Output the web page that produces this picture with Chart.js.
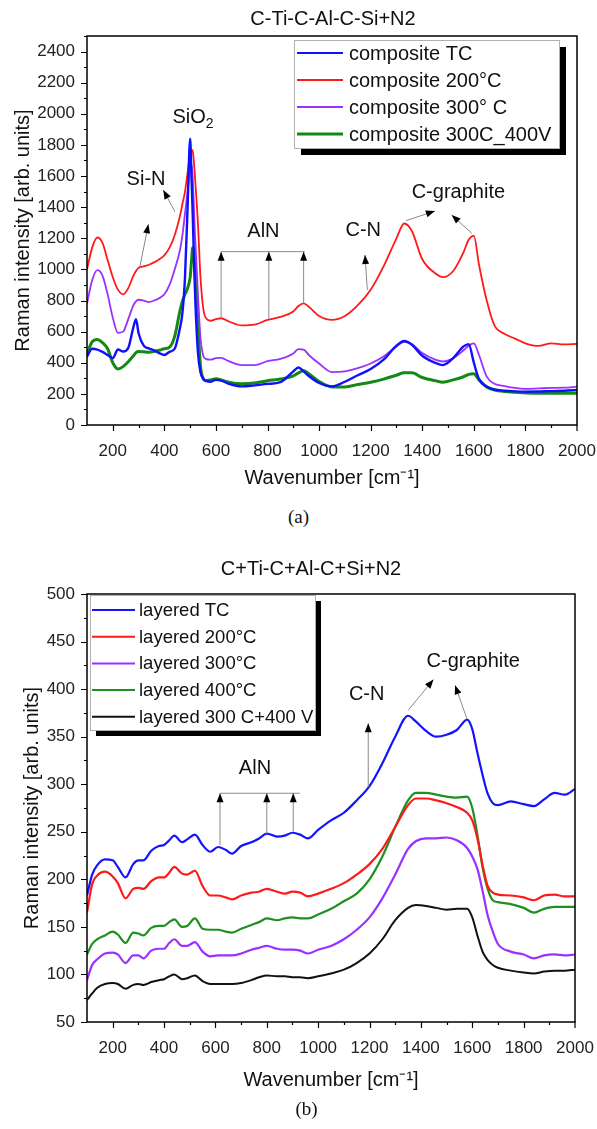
<!DOCTYPE html>
<html>
<head>
<meta charset="utf-8">
<script src="https://cdn.jsdelivr.net/npm/chart.js@4.4.1/dist/chart.umd.min.js"></script>
<style>
  body { margin: 0; background: #fff; width: 597px; height: 1129px; position: relative; overflow: hidden; }
  .box { position: absolute; left: 0; width: 597px; }
  #boxA { top: 0; height: 500px; }
  #boxB { top: 540px; height: 560px; }
  .cap { position: absolute; width: 597px; text-align: center; font-family: "Liberation Serif", "Times New Roman", serif; font-size: 19px; color: #111; }
</style>
</head>
<body>
<div class="box" id="boxA"><canvas id="chartA"></canvas></div>
<div class="box" id="boxB"><canvas id="chartB"></canvas></div>
<div class="cap" style="left:0; top:506px;">(a)</div>
<div class="cap" style="left:8px; top:1098px;">(b)</div>
<script>
// ---- (a) composite coatings ----
const wnA = [100, 120, 140, 160, 180, 200, 220, 240, 260, 280, 290, 300, 320, 340, 360, 380, 400, 420, 440, 460,
  470, 480, 490, 500, 505, 510, 515, 520, 530, 540, 550, 560, 580, 600, 620, 650, 700, 750, 800, 850, 900,
  920, 940, 960, 1000, 1050, 1100, 1150, 1200, 1250, 1300, 1330, 1360, 1400, 1450, 1480, 1520, 1560, 1580,
  1600, 1620, 1650, 1680, 1720, 1760, 1800, 1850, 1900, 1950, 2000];
const compTC = [440, 490, 485, 470, 450, 430, 485, 472, 495, 630, 680, 590, 510, 492, 480, 462, 450, 470, 490, 620,
  720, 950, 1400, 1840, 1600, 1350, 1050, 800, 470, 340, 300, 285, 278, 290, 285, 265, 248, 255, 264, 275, 345,
  370, 345, 315, 270, 248, 278, 320, 360, 420, 510, 540, 515, 445, 400, 385, 430, 505, 520,
  400, 295, 246, 228, 220, 216, 214, 215, 218, 220, 225];
const comp200 = [1000, 1140, 1205, 1170, 1060, 950, 870, 840, 880, 960, 990, 1010, 1020, 1030, 1045, 1065, 1090, 1140, 1220, 1340,
  1420, 1500, 1620, 1740, 1770, 1760, 1680, 1560, 1300, 950, 760, 690, 670, 680, 686, 665, 640, 645, 675, 695, 730,
  765, 782, 760, 700, 675, 700, 770, 870, 1020, 1200, 1295, 1245, 1065, 975, 950, 990, 1110, 1190,
  1215, 1030, 800, 640, 585, 555, 525, 508, 525, 518, 521];
const comp300 = [780, 930, 995, 960, 840, 690, 592, 600, 680, 770, 795, 805, 800, 790, 800, 815, 840, 900, 1000, 1120,
  1220, 1360, 1500, 1660, 1680, 1580, 1380, 1180, 850, 560, 450, 425, 420, 430, 432, 410, 385, 385, 410, 425, 460,
  488, 485, 450, 395, 340, 345, 365, 395, 440, 505, 535, 520, 462, 420, 408, 430, 480, 510,
  525, 450, 311, 265, 250, 238, 232, 235, 238, 240, 246];
const comp300V = [460, 535, 550, 530, 490, 400, 360, 375, 407, 445, 465, 472, 470, 468, 472, 480, 490, 500, 570, 730,
  795, 840, 880, 950, 1050, 1140, 1080, 950, 650, 380, 300, 285, 290, 298, 290, 275, 265, 270, 285, 295, 315,
  335, 348, 330, 280, 245, 245, 260, 275, 295, 320, 335, 335, 305, 285, 275, 290, 310, 325,
  330, 290, 245, 225, 215, 210, 205, 204, 204, 204, 204];

// ---- (b) layered coatings ----
const wnB = [100, 120, 140, 170, 200, 220, 250, 280, 300, 320, 350, 380, 400, 420, 440, 470, 490, 520, 550, 580,
  610, 640, 665, 700, 740, 770, 800, 840, 870, 900, 930, 960, 1000, 1050, 1100, 1150, 1200, 1250, 1300, 1350,
  1380, 1420, 1460, 1500, 1540, 1580, 1600, 1620, 1640, 1660, 1680, 1700, 1750, 1800, 1840, 1880, 1920, 1960, 2000];
const layTC = [183, 205, 215, 221, 220, 213, 202, 216, 220, 220, 230, 235, 236, 241, 246, 239, 242, 247, 236, 229,
  234, 231, 227, 235, 239, 243, 248, 245, 246, 249, 247, 243, 252, 262, 270, 283, 298, 322, 350, 372,
  366, 356, 350, 352, 357, 368, 358, 333, 310, 290, 280, 278, 282, 279, 277, 284, 291, 289, 295];
const lay200 = [165, 195, 204, 208, 203, 196, 180, 190, 191, 190, 198, 202, 202, 207, 213, 206, 205, 209, 193, 183,
  183, 181, 179, 183, 186, 187, 190, 187, 185, 187, 186, 182, 185, 190, 196, 205, 216, 232, 255, 278,
  285, 285, 283, 280, 276, 270, 262, 243, 215, 193, 186, 184, 183, 181, 178, 183, 184, 182, 182];
const lay300 = [94, 110, 116, 122, 123, 121, 112, 120, 120, 117, 125, 127, 127, 133, 137, 130, 130, 134, 124, 119,
  120, 120, 120, 122, 126, 128, 130, 127, 126, 126, 125, 122, 126, 130, 137, 147, 160, 180, 205, 232,
  240, 243, 243, 244, 241, 233, 224, 211, 188, 162, 145, 132, 124, 121, 117, 120, 121, 120, 121];
const lay400 = [121, 132, 137, 141, 145, 142, 133, 144, 143, 141, 149, 151, 151, 155, 158, 150, 151, 159, 148, 147,
  147, 145, 144, 148, 152, 155, 159, 157, 159, 160, 159, 159, 163, 169, 177, 185, 200, 224, 255, 283,
  291, 291, 289, 287, 286, 287, 275, 247, 213, 190, 178, 176, 174, 170, 165, 169, 171, 171, 171];
const lay300V = [73, 80, 86, 90, 91, 90, 85, 89, 90, 89, 92, 94, 95, 98, 100, 95, 96, 99, 93, 90,
  90, 90, 90, 91, 94, 97, 99, 98, 98, 97, 97, 96, 98, 101, 105, 112, 122, 137, 157, 170,
  173, 172, 170, 168, 169, 169, 160, 141, 124, 115, 110, 107, 104, 102, 101, 103, 104, 104, 105];

Chart.defaults.font.family = '"Liberation Sans", Arial, sans-serif';
Chart.defaults.color = '#222';

function pts(xs, ys) {
  return xs.map((x, i) => ({ x: x, y: ys[i] }));
}

function line(label, xs, ys, color, width) {
  return {
    label: label,
    data: pts(xs, ys),
    borderColor: color,
    backgroundColor: color,
    borderWidth: width,
    pointRadius: 0,
    cubicInterpolationMode: 'monotone',
    fill: false
  };
}

// frame, ticks, title, legend with shadow and the peak labels
const decor = {
  id: 'decor',
  afterDraw(chart, args, o) {
    const { ctx, chartArea: a, scales: { x, y } } = chart;
    ctx.save();

    ctx.strokeStyle = '#000';
    ctx.lineWidth = 1.5;
    ctx.strokeRect(a.left, a.top, a.right - a.left, a.bottom - a.top);

    ctx.lineWidth = 1.2;
    ctx.beginPath();
    for (let v = x.min + o.xMinor; v < x.max; v += o.xMinor) {
      const px = Math.round(x.getPixelForValue(v)) + 0.5;
      const len = v % o.xMajor === 0 ? 6 : 3;
      ctx.moveTo(px, a.bottom);
      ctx.lineTo(px, a.bottom + len);
    }
    ctx.moveTo(a.right, a.bottom);
    ctx.lineTo(a.right, a.bottom + 6);
    for (let v = y.min; v <= y.max; v += o.yMinor) {
      const py = Math.round(y.getPixelForValue(v)) + 0.5;
      const len = v % o.yMajor === 0 ? 6 : 3;
      ctx.moveTo(a.left, py);
      ctx.lineTo(a.left - len, py);
    }
    ctx.stroke();

    // title
    ctx.fillStyle = '#111';
    ctx.font = '20px "Liberation Sans", Arial, sans-serif';
    ctx.textAlign = 'center';
    ctx.textBaseline = 'middle';
    ctx.fillText(o.title.text, o.title.x, o.title.y);

    // peak labels and arrows, placed in data units
    const X = v => x.getPixelForValue(v);
    const Y = v => y.getPixelForValue(v);
    ctx.strokeStyle = '#8a8a8a';
    ctx.fillStyle = '#000';
    ctx.lineWidth = 1;
    o.lines.forEach(l => {
      ctx.beginPath();
      ctx.moveTo(X(l[0]), Y(l[1]));
      ctx.lineTo(X(l[2]), Y(l[3]));
      ctx.stroke();
    });
    o.arrows.forEach(l => {
      const x1 = X(l[0]), y1 = Y(l[1]), x2 = X(l[2]), y2 = Y(l[3]);
      const ang = Math.atan2(y2 - y1, x2 - x1);
      ctx.beginPath();
      ctx.moveTo(x1, y1);
      ctx.lineTo(x2, y2);
      ctx.stroke();
      ctx.beginPath();
      ctx.moveTo(x2, y2);
      ctx.lineTo(x2 - 9 * Math.cos(ang) + 3.5 * Math.sin(ang), y2 - 9 * Math.sin(ang) - 3.5 * Math.cos(ang));
      ctx.lineTo(x2 - 9 * Math.cos(ang) - 3.5 * Math.sin(ang), y2 - 9 * Math.sin(ang) + 3.5 * Math.cos(ang));
      ctx.closePath();
      ctx.fill();
    });
    ctx.fillStyle = '#111';
    o.labels.forEach(t => {
      const cx = X(t.x), cy = Y(t.y);
      ctx.font = '20px "Liberation Sans", Arial, sans-serif';
      if (t.sub) {
        const w1 = ctx.measureText(t.text).width;
        ctx.font = '14px "Liberation Sans", Arial, sans-serif';
        const w2 = ctx.measureText(t.sub).width;
        const sx = cx - (w1 + w2) / 2;
        ctx.textAlign = 'left';
        ctx.font = '20px "Liberation Sans", Arial, sans-serif';
        ctx.fillText(t.text, sx, cy);
        ctx.font = '14px "Liberation Sans", Arial, sans-serif';
        ctx.fillText(t.sub, sx + w1, cy + 7);
        ctx.textAlign = 'center';
      } else {
        ctx.fillText(t.text, cx, cy);
      }
    });

    // legend box with the heavy drop shadow
    const L = o.legend;
    ctx.fillStyle = '#000';
    ctx.fillRect(L.x + L.sh, L.y + L.sh, L.w, L.h);
    ctx.fillStyle = '#fff';
    ctx.fillRect(L.x, L.y, L.w, L.h);
    ctx.strokeStyle = '#b0b0b0';
    ctx.lineWidth = 1;
    ctx.strokeRect(L.x + 0.5, L.y + 0.5, L.w, L.h);
    ctx.font = L.size + 'px "Liberation Sans", Arial, sans-serif';
    ctx.textAlign = 'left';
    chart.data.datasets.forEach((ds, i) => {
      const cy = L.y + L.first + i * L.row;
      ctx.strokeStyle = ds.borderColor;
      ctx.lineWidth = ds.borderWidth > 2.6 ? 3 : 2;
      ctx.beginPath();
      ctx.moveTo(L.x + L.l1, cy);
      ctx.lineTo(L.x + L.l2, cy);
      ctx.stroke();
      ctx.fillStyle = '#111';
      ctx.fillText(ds.label, L.x + L.tx, cy + 1);
    });
    ctx.restore();
  }
};

function axes(xTitlePad, yTitlePad, yMin, yMax, yStep, yMajor, plotBottomGap) {
  return {
    x: {
      type: 'linear', min: 100, max: 2000,
      grid: { display: false },
      border: { display: false },
      ticks: {
        stepSize: 100, autoSkip: false, maxRotation: 0, padding: 8,
        font: { size: 17 },
        callback: v => (v % 200 === 0 ? v : '')
      },
      title: { display: true, text: 'Wavenumber [cm\u207B\u00B9]', font: { size: 20 }, color: '#111', padding: { top: 0, bottom: xTitlePad } },
      afterFit: s => { s.height = plotBottomGap; s.paddingLeft = 0; s.paddingRight = 0; }
    },
    y: {
      type: 'linear', min: yMin, max: yMax,
      grid: { display: false },
      border: { display: false },
      ticks: {
        stepSize: yStep, autoSkip: false, padding: 4,
        font: { size: 17 },
        callback: v => (v % yMajor === 0 ? v : '')
      },
      title: { display: true, text: 'Raman intensity [arb. units]', font: { size: 20 }, color: '#111', padding: { top: yTitlePad, bottom: 0 } },
      afterFit: s => { s.width = 87; s.paddingTop = 0; s.paddingBottom = 0; }
    }
  };
}

new Chart(document.getElementById('chartA'), {
  type: 'line',
  data: {
    datasets: [
      line('composite TC', wnA, compTC, '#1010ff', 2.4),
      line('composite 200\u00B0C', wnA, comp200, '#ff1a1a', 1.8),
      line('composite 300\u00B0 C', wnA, comp300, '#9b30ff', 1.8),
      line('composite 300C_400V', wnA, comp300V, '#138a13', 3)
    ]
  },
  options: {
    responsive: true,
    maintainAspectRatio: false,
    animation: false,
    layout: { padding: { top: 36, right: 20, left: 0, bottom: 0 } },
    scales: axes(10, 11, 0, 2500, 100, 200, 75),
    plugins: {
      legend: { display: false },
      tooltip: { enabled: false },
      decor: {
        xMinor: 100, xMajor: 200, yMinor: 100, yMajor: 200,
        title: { text: 'C-Ti-C-Al-C-Si+N2', x: 333, y: 19 },
        legend: { x: 294, y: 40, w: 265, h: 108, sh: 7, first: 13, row: 27, l1: 3, l2: 49, tx: 55, size: 20 },
        labels: [
          { text: 'SiO', sub: '2', x: 511, y: 1979 },
          { text: 'Si-N', x: 329, y: 1575 },
          { text: 'AlN', x: 784, y: 1242 },
          { text: 'C-N', x: 1171, y: 1249 },
          { text: 'C-graphite', x: 1540, y: 1495 }
        ],
        lines: [[620, 1114, 945, 1114]],
        arrows: [
          [441, 1371, 396, 1510], [305, 1017, 338, 1290],
          [620, 686, 620, 1114], [805, 680, 805, 1114], [940, 782, 940, 1114],
          [1187, 868, 1178, 1093],
          [1337, 1313, 1449, 1375], [1592, 1232, 1514, 1350]
        ]
      }
    }
  },
  plugins: [decor]
});

new Chart(document.getElementById('chartB'), {
  type: 'line',
  data: {
    datasets: [
      line('layered TC', wnB, layTC, '#1414ff', 2.2),
      line('layered 200\u00B0C', wnB, lay200, '#ff1a1a', 2.2),
      line('layered 300\u00B0C', wnB, lay300, '#9b30ff', 2.2),
      line('layered 400\u00B0C', wnB, lay400, '#1f8f1f', 2.2),
      line('layered 300 C+400 V', wnB, lay300V, '#111111', 2)
    ]
  },
  options: {
    responsive: true,
    maintainAspectRatio: false,
    animation: false,
    layout: { padding: { top: 54, right: 22, left: 0, bottom: 0 } },
    scales: axes(8, 20, 50, 500, 25, 50, 78),
    plugins: {
      legend: { display: false },
      tooltip: { enabled: false },
      decor: {
        xMinor: 100, xMajor: 200, yMinor: 25, yMajor: 50,
        title: { text: 'C+Ti-C+Al-C+Si+N2', x: 311, y: 29 },
        legend: { x: 90, y: 55, w: 225, h: 135, sh: 6, first: 15, row: 26.7, l1: 2, l2: 45, tx: 49, size: 18.5 },
        labels: [
          { text: 'AlN', x: 754, y: 317 },
          { text: 'C-N', x: 1189, y: 394 },
          { text: 'C-graphite', x: 1604, y: 429 }
        ],
        lines: [[618, 290.5, 929, 290.5]],
        arrows: [
          [618, 236, 618, 290.5], [800, 248, 800, 290.5], [903, 250, 903, 290.5],
          [1195, 297, 1195, 364],
          [1351, 378, 1449, 410], [1579, 369, 1533, 404]
        ]
      }
    }
  },
  plugins: [decor]
});
</script>
</body>
</html>
